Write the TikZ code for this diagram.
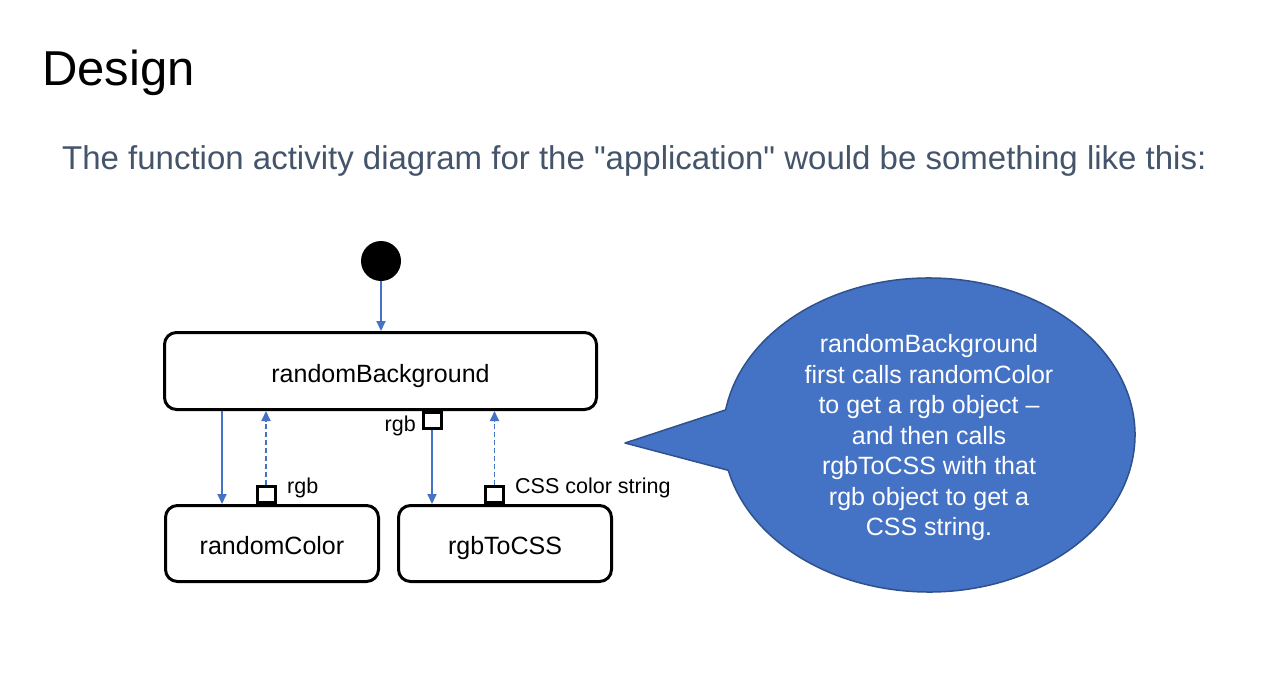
\documentclass[tikz,border=0pt]{standalone}
\usepackage{fontspec}
\setmainfont{Liberation Sans}[Ligatures=TeXOff]
\usetikzlibrary{arrows.meta,calc}
\definecolor{accent}{HTML}{4472C4}
\definecolor{accentdark}{HTML}{2F528F}
\definecolor{subtle}{HTML}{44546A}
\begin{document}
\begin{tikzpicture}[x=1pt,y=-1pt,
  box/.style={draw, line width=3pt, rounded corners=12pt, inner sep=0pt, text height=26pt, text depth=4pt, font=\fontsize{25}{30}\selectfont},
  pinbox/.style={draw, line width=3pt, fill=white, minimum width=18pt, minimum height=16pt, inner sep=0pt},
  flow/.style={accent, line width=1.8pt, -{Triangle[length=10pt,width=9pt]}},
  ret/.style={flow, dash pattern=on 5pt off 3pt},
  lbl/.style={font=\fontsize{21.5}{24}\selectfont, inner sep=0pt}]
\useasboundingbox (0,0) rectangle (1287,690);
\node[anchor=base west, font=\fontsize{49}{55}\selectfont, inner sep=0pt] (title) at (42,86) {Design};
\node[anchor=base west, font=\fontsize{33}{38}\selectfont, text=subtle, inner sep=0pt] (sub) at (62,169) {The function activity diagram for the "application" would be something like this:};

\node[circle, fill=black, minimum size=40pt, inner sep=0pt] (init) at (381,261) {};
\node[box, minimum width=432pt, minimum height=77pt] (rb) at (380.5,371) {randomBackground};
\node[box, minimum width=213pt, minimum height=76pt] (rc) at (272,543.5) {randomColor};
\node[box, minimum width=213pt, minimum height=76pt] (rt) at (505,543.5) {rgbToCSS};

\node[pinbox, anchor=south] (p1) at ([xshift=-6pt]rc.north) {};
\node[pinbox, anchor=north] (p2) at ([xshift=51.5pt]rb.south) {};
\node[pinbox, anchor=south] (p3) at ([xshift=-10.5pt]rt.north) {};

\coordinate (a1) at ([xshift=59pt]rb.south west);
\draw[flow] (init.south) -- (init.south |- rb.north);
\draw[flow] (a1) -- (a1 |- rc.north);
\draw[ret] (p1.north) -- (p1.north |- rb.south);
\draw[flow] (p2.south) -- (p2.south |- rt.north);
\draw[ret] (p3.north) -- (p3.north |- rb.south);

\node[lbl, anchor=base west] (l1) at (287,493) {rgb};
\node[lbl, anchor=base east] (l2) at (416,431) {rgb};
\node[lbl, anchor=base west] (l3) at (515,493) {CSS color string};

\draw[fill=accent, draw=accentdark, line width=1.5pt, line join=round]
  (725.65,409.9) arc[start angle=189.2, end angle=527, x radius=206, y radius=157]
  -- (625,443) -- cycle;
\node[text=white, align=center, font=\fontsize{25}{30.5}\selectfont, inner sep=0pt] (note) at (929,438)
  {randomBackground\\first calls randomColor\\to get a rgb object –\\and then calls\\rgbToCSS with that\\rgb object to get a\\CSS string.};
\end{tikzpicture}
\end{document}
